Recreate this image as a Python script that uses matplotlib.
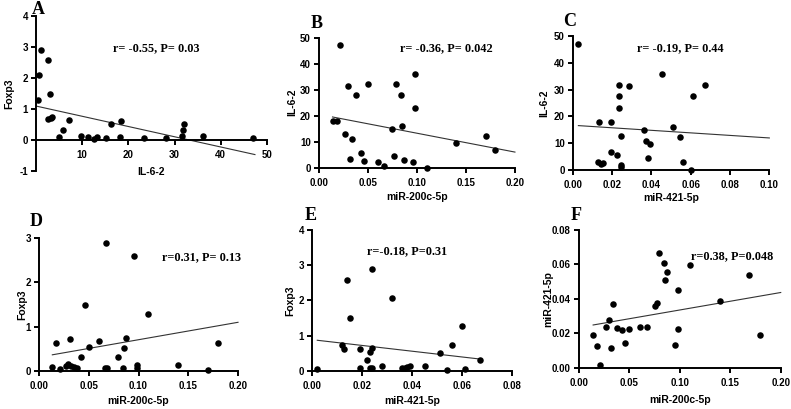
import matplotlib
matplotlib.use("Agg")
import matplotlib.pyplot as plt

# Panel A: Foxp3 vs IL-6-2
A_X = [0.36, 0.65, 1.1, 2.5, 3.0, 2.5, 3.2, 3.5, 4.9, 5.9, 7.1, 9.7, 11.3, 12.6, 13.3,
       15.2, 16.2, 18.2, 18.3, 23.4, 28.1, 31.5, 31.8, 32.0, 36.1, 47.0]
A_Y = [1.29, 2.1, 2.9, 2.6, 1.5, 0.68, 0.72, 0.73, 0.1, 0.31, 0.64, 0.12, 0.1, 0.02, 0.09,
       0.08, 0.52, 0.1, 0.62, 0.05, 0.07, 0.13, 0.31, 0.53, 0.12, 0.05]

# Panel B: IL-6-2 vs miR-200c-5p
B_X = [0.0214, 0.014, 0.0187, 0.030, 0.038, 0.050, 0.027, 0.034, 0.032, 0.043, 0.046,
       0.060, 0.067, 0.079, 0.084, 0.098, 0.098, 0.075, 0.085, 0.077, 0.087, 0.096,
       0.110, 0.140, 0.170, 0.180]
B_Y = [47.2, 17.9, 18.1, 31.4, 27.9, 32.0, 12.9, 11.0, 3.2, 5.5, 2.7,
       2.1, 0.8, 32.0, 27.9, 36.0, 23.1, 14.9, 16.0, 4.6, 2.9, 2.2,
       0.0, 9.6, 12.2, 6.7]

# Panel C: IL-6-2 vs miR-421-5p
C_X = [0.0029, 0.0136, 0.0195, 0.0129, 0.0142, 0.0156, 0.0195, 0.0225, 0.0236, 0.0236,
       0.0236, 0.0246, 0.0246, 0.0246, 0.0285, 0.0364, 0.0373, 0.0393, 0.0385, 0.0454,
       0.0512, 0.0544, 0.0563, 0.0603, 0.0612, 0.0673]
C_Y = [46.9, 18.0, 17.9, 3.1, 2.2, 2.6, 6.6, 5.5, 31.9, 27.8,
       23.0, 12.8, 2.0, 1.0, 31.3, 14.8, 10.8, 9.6, 4.6, 35.9,
       15.9, 12.2, 2.9, 0.0, 27.8, 31.9]

# Panel D: Foxp3 vs miR-200c-5p
D_X = [0.0134, 0.0174, 0.0208, 0.027, 0.029, 0.032, 0.035, 0.038, 0.0315, 0.042, 0.046,
       0.050, 0.060, 0.067, 0.0665, 0.0685, 0.079, 0.084, 0.085, 0.087, 0.095, 0.098,
       0.098, 0.110, 0.140, 0.170, 0.180]
D_Y = [0.105, 0.63, 0.06, 0.12, 0.16, 0.12, 0.09, 0.07, 0.73, 0.31, 1.49,
       0.54, 0.67, 2.89, 0.08, 0.08, 0.33, 0.08, 0.52, 0.75, 2.58, 0.15,
       0.07, 1.29, 0.13, 0.03, 0.64]

# Panel E: Foxp3 vs miR-421-5p
E_X = [0.002, 0.012, 0.0128, 0.014, 0.015, 0.019, 0.019, 0.022, 0.023, 0.024, 0.024,
       0.023, 0.024, 0.028, 0.032, 0.036, 0.037, 0.038, 0.039, 0.045, 0.051, 0.054,
       0.056, 0.060, 0.061, 0.067]
E_Y = [0.05, 0.74, 0.62, 2.58, 1.49, 0.63, 0.09, 0.30, 0.53, 0.66, 2.89,
       0.08, 0.09, 0.15, 2.08, 0.08, 0.09, 0.11, 0.14, 0.14, 0.52, 0.03,
       0.74, 1.28, 0.06, 0.32]

# Panel F: miR-421-5p vs miR-200c-5p
F_X = [0.0142, 0.018, 0.021, 0.027, 0.030, 0.032, 0.034, 0.038, 0.043, 0.046, 0.050,
       0.060, 0.067, 0.075, 0.077, 0.079, 0.084, 0.085, 0.087, 0.095, 0.098, 0.098,
       0.110, 0.140, 0.169, 0.179]
F_Y = [0.0189, 0.0127, 0.0019, 0.0237, 0.0278, 0.0118, 0.0368, 0.0229, 0.0218, 0.0146,
       0.0227, 0.0237, 0.0237, 0.0358, 0.0376, 0.0667, 0.0607, 0.0507, 0.0557, 0.0131,
       0.0449, 0.0227, 0.0598, 0.0387, 0.0538, 0.0189]

# regression lines as drawn in the figure (start / end values)
FIT_X = [[0.0, 47.4], [0.014, 0.20], [0.0029, 0.10], [0.0134, 0.20], [0.002, 0.067], [0.014, 0.20]]
FIT_Y = [[1.10, -0.47], [19.5, 6.0], [16.6, 12.0], [0.37, 1.10], [0.87, 0.34], [0.0249, 0.0437]]

STATS = ["r= -0.55, P= 0.03", "r= -0.36, P= 0.042", "r= -0.19, P= 0.44",
         "r=0.31, P= 0.13", "r=-0.18, P=0.31", "r=0.38, P=0.048"]

SANS = "Liberation Sans"
SERIF = "Liberation Serif"
W, H = 791, 409


def plot_panel(fig, rect, x, y, fit_x, fit_y, letter, stat, stat_xy, xlabel, ylabel,
               xlim, xticks, xfmt, ylim, yticks, yfmt, letter_xy, label_px,
               zero_axis=False):
    ax = fig.add_axes(rect)
    ax.scatter(x, y, s=22, color="black", zorder=3, clip_on=False, linewidths=0)
    ax.plot(fit_x, fit_y, color="#333333", linewidth=0.8, clip_on=False)

    ax.set_xlim(*xlim)
    ax.set_ylim(*ylim)
    ax.set_xticks(xticks)
    ax.set_yticks(yticks)
    ax.set_xticklabels([xfmt.format(t) for t in xticks])
    ax.set_yticklabels([yfmt.format(t) for t in yticks])
    for side in ["top", "right"]:
        ax.spines[side].set_visible(False)
    for side in ["left", "bottom"]:
        ax.spines[side].set_linewidth(1.4)
    if zero_axis:
        ax.spines["bottom"].set_position(("data", 0))
    ax.tick_params(width=1.4, length=3.6, labelsize=7)
    ax.tick_params(axis="x", pad=3.5)
    ax.tick_params(axis="y", pad=2.2)
    for lab in ax.get_xticklabels() + ax.get_yticklabels():
        lab.set_family(SANS)
        lab.set_fontweight("bold")

    # axis labels centred on pixel positions
    ax.set_xlabel(xlabel, family=SANS, fontweight="bold", fontsize=7.5, va="center")
    ax.set_ylabel(ylabel, family=SANS, fontweight="bold", fontsize=7.5, va="center")
    left, bottom, width, height = rect
    ylab_x = (label_px[0] - left * W) / (width * W)
    xlab_y = ((H - label_px[1]) - bottom * H) / (height * H)
    ax.yaxis.set_label_coords(ylab_x, 0.5)
    ax.xaxis.set_label_coords(0.5, xlab_y)

    fig.text(stat_xy[0] / W, 1 - stat_xy[1] / H, stat, family=SERIF,
             fontweight="bold", fontsize=8.8, ha="center", va="center")
    fig.text(letter_xy[0] / W, 1 - letter_xy[1] / H, letter, family=SERIF,
             fontweight="bold", fontsize=13, ha="center", va="center")
    return ax


def main():
    fig = plt.figure(figsize=(W / 100, H / 100), dpi=100)

    ticks_200 = [0.0, 0.05, 0.10, 0.15, 0.20]
    ticks_il6 = [0, 10, 20, 30, 40, 50]

    plot_panel(fig, [0.0455, 0.582, 0.292, 0.378], A_X, A_Y, FIT_X[0], FIT_Y[0], "A",
               STATS[0], (156, 48), "IL-6-2", "Foxp3", (0, 50), [10, 20, 30, 40, 50],
               "{:.0f}", (-1, 4), [-1, 0, 1, 2, 3, 4], "{:.0f}", (38, 10), (9, 172),
               zero_axis=True)
    plot_panel(fig, [0.403, 0.590, 0.248, 0.318], B_X, B_Y, FIT_X[1], FIT_Y[1], "B",
               STATS[1], (446, 48), "miR-200c-5p", "IL-6-2", (0, 0.2), ticks_200, "{:.2f}",
               (0, 50), ticks_il6, "{:.0f}", (317, 24), (292, 197))
    plot_panel(fig, [0.724, 0.584, 0.2486, 0.328], C_X, C_Y, FIT_X[2], FIT_Y[2], "C",
               STATS[2], (680, 48), "miR-421-5p", "IL-6-2", (0, 0.1),
               [0.0, 0.02, 0.04, 0.06, 0.08, 0.10], "{:.2f}", (0, 50), ticks_il6, "{:.0f}",
               (570, 22), (544, 198))
    plot_panel(fig, [0.0493, 0.0922, 0.2516, 0.3267], D_X, D_Y, FIT_X[3], FIT_Y[3], "D",
               STATS[3], (201, 257), "miR-200c-5p", "Foxp3", (0, 0.2), ticks_200, "{:.2f}",
               (0, 3), [0, 1, 2, 3], "{:.0f}", (36, 221), (22, 401))
    plot_panel(fig, [0.3948, 0.0929, 0.2525, 0.3455], E_X, E_Y, FIT_X[4], FIT_Y[4], "E",
               STATS[4], (407, 251), "miR-421-5p", "Foxp3", (0, 0.08),
               [0.0, 0.02, 0.04, 0.06, 0.08], "{:.2f}", (0, 4), [0, 1, 2, 3, 4], "{:.0f}",
               (311, 215), (290, 401))
    plot_panel(fig, [0.732, 0.1002, 0.255, 0.338], F_X, F_Y, FIT_X[5], FIT_Y[5], "F",
               STATS[5], (732, 256), "miR-200c-5p", "miR-421-5p", (0, 0.2), ticks_200,
               "{:.2f}", (0, 0.08), [0.0, 0.02, 0.04, 0.06, 0.08], "{:.2f}", (576, 215),
               (548, 400))

    fig.savefig("out.png", dpi=100)


if __name__ == "__main__":
    main()
